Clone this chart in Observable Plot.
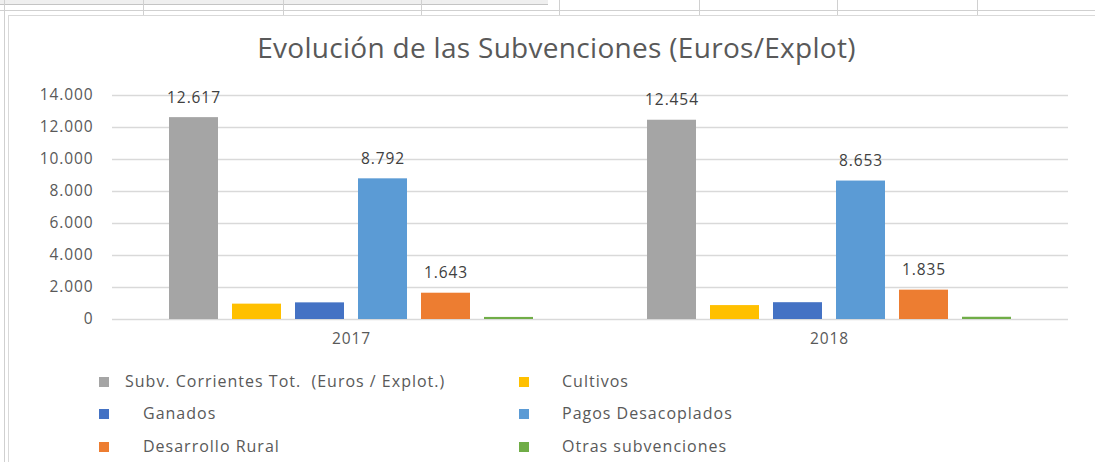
<!DOCTYPE html>
<html><head><meta charset="utf-8">
<script src="https://cdn.jsdelivr.net/npm/d3@7"></script>
<script src="https://cdn.jsdelivr.net/npm/@observablehq/plot@0.6"></script>
<style>
html,body{margin:0;padding:0;background:#fff;}
#page{position:relative;width:1095px;height:462px;overflow:hidden;font-family:"Open Sans",sans-serif;background:#fff;}
.gl{position:absolute;background:#d0d0d0;}
#chartbox{position:absolute;left:8px;top:15px;width:1100px;height:460px;border-left:1px solid #d9d9d9;border-top:1px solid #d9d9d9;background:#fff;}
#title{position:absolute;left:0;width:1113px;top:29px;text-align:center;font-size:28px;letter-spacing:0.3px;line-height:36px;color:#595959;white-space:nowrap;}
#plot{position:absolute;left:0;top:80px;}
#plot svg text{letter-spacing:0.9px;}
.leg{position:absolute;font-size:16px;line-height:22px;color:#595959;letter-spacing:1px;white-space:pre;}
.sw{position:absolute;width:10px;height:10px;}
</style>
</head><body>
<div id="page">
  <div class="gl" style="left:0;top:0;width:548px;height:4px;background:#efefef;border-bottom:1px solid #c4c4c4;"></div>
  <div class="gl" style="left:0;top:10px;width:1095px;height:1px;"></div>
  <div class="gl" style="left:4px;top:0;width:1px;height:462px;"></div>
  <div id="vlines"></div>
  <div id="chartbox"></div>
  <div id="title">Evolución de las Subvenciones (Euros/Explot)</div>
  <div id="plot"></div>
  <div id="legend"></div>
</div>
<script>
const years = ["2017", "2018"];
const series = ["Subv. Corrientes Tot.  (Euros / Explot.)", "Cultivos", "Ganados", "Pagos Desacoplados", "Desarrollo Rural", "Otras subvenciones"];
const colors = ["#A5A5A5", "#FFC000", "#4472C4", "#5B9BD5", "#ED7D31", "#70AD47"];
const values2017 = [12617, 960, 1040, 8792, 1643, 130];
const values2018 = [12454, 870, 1050, 8653, 1835, 140];
const labeledSeries = ["Subv. Corrientes Tot.  (Euros / Explot.)", "Pagos Desacoplados", "Desarrollo Rural"];
const yTicks = [0, 2000, 4000, 6000, 8000, 10000, 12000, 14000];
const cellBorders = [143, 283, 421, 559, 699, 837, 977];

// spreadsheet cell borders (decoration)
const vl = document.getElementById("vlines");
cellBorders.forEach(x => {
  const d = document.createElement("div");
  d.className = "gl";
  d.style.cssText = `left:${x}px;top:0;width:1px;height:15px;`;
  vl.appendChild(d);
});

const fmt = v => d3.format(",")(v).replace(/,/g, ".");

const data = [];
years.forEach((yr, yi) => {
  const vals = yi === 0 ? values2017 : values2018;
  series.forEach((s, i) => data.push({year: yr, series: s, value: vals[i]}));
});

const chart = Plot.plot({
  width: 1095,
  height: 280,
  marginLeft: 112,
  marginRight: 27,
  marginTop: 15,
  marginBottom: 41,
  style: {fontFamily: "Open Sans, sans-serif", fontSize: "15.5px", color: "#595959", background: "transparent", overflow: "visible"},
  fx: {domain: years, padding: 0, label: null, axis: "bottom", tickSize: 0, tickPadding: 13},
  x: {domain: series, paddingInner: 0.23, paddingOuter: 0.855, axis: null},
  y: {domain: [0, 14000], ticks: yTicks, tickFormat: fmt, tickSize: 0, tickPadding: 19, label: null},
  color: {domain: series, range: colors},
  marks: [
    Plot.ruleY(yTicks, {stroke: "#d9d9d9", strokeWidth: 1.3}),
    Plot.barY(data, {fx: "year", x: "series", y: "value", fill: "series"}),
    Plot.text(data.filter(d => labeledSeries.includes(d.series)), {
      fx: "year", x: "series", y: "value", text: d => fmt(d.value),
      dy: -20, fill: "#404040", fontSize: 15.5
    })
  ]
});
document.getElementById("plot").appendChild(chart);

// legend: two columns, three rows
const leg = document.getElementById("legend");
const rowY = [382, 414, 447];
const colSwatchX = [99, 519];
const colTextX = [[125, 143, 143], [562, 562, 562]];
series.forEach((s, i) => {
  const col = i % 2, row = Math.floor(i / 2);
  const sw = document.createElement("div");
  sw.className = "sw";
  sw.style.cssText = `left:${colSwatchX[col]}px;top:${rowY[row] - 5}px;background:${colors[i]};`;
  leg.appendChild(sw);
  const t = document.createElement("div");
  t.className = "leg";
  t.textContent = s;
  t.style.cssText = `left:${colTextX[col][row]}px;top:${rowY[row] - 12}px;`;
  leg.appendChild(t);
});
</script>
</body></html>
